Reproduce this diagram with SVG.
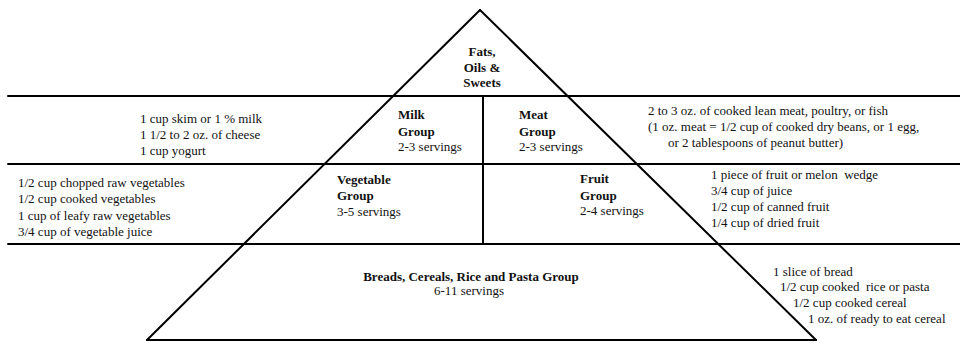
<svg xmlns="http://www.w3.org/2000/svg" width="960" height="343" viewBox="0 0 960 343">
<style>
  .ln { stroke: #000; stroke-width: 2; fill: none; stroke-linecap: round; }
  text { font-family: 'Liberation Serif', 'Times New Roman', Times, 'DejaVu Serif', serif; font-size: 13px; fill: #111; }
  .b { font-weight: bold; }
  .c { text-anchor: middle; }
</style>
<rect width="960" height="343" fill="#fff"/>
<g id="connectors">
  <line class="ln" x1="8" y1="96" x2="960" y2="96"/>
  <line class="ln" x1="8" y1="164" x2="960" y2="164"/>
  <line class="ln" x1="8" y1="244" x2="960" y2="244"/>
  <line class="ln" x1="147" y1="340" x2="816" y2="340"/>
  <line class="ln" x1="480" y1="10" x2="147" y2="340"/>
  <line class="ln" x1="480" y1="10" x2="816" y2="340"/>
  <line class="ln" x1="483" y1="96" x2="483" y2="244"/>
</g>
<g id="fats">
  <text class="b c" x="482" y="56">Fats,</text>
  <text class="b c" x="482" y="72">Oils &amp;</text>
  <text class="b c" x="482" y="87">Sweets</text>
</g>
<g id="milk">
  <text class="b" x="398" y="119">Milk</text>
  <text class="b" x="398" y="136">Group</text>
  <text x="398" y="151">2-3 servings</text>
</g>
<g id="milk-list">
  <text x="140" y="123">1 cup skim or 1 % milk</text>
  <text x="140" y="139">1 1/2 to 2 oz. of cheese</text>
  <text x="140" y="155">1 cup yogurt</text>
</g>
<g id="meat">
  <text class="b" x="519" y="119">Meat</text>
  <text class="b" x="519" y="136">Group</text>
  <text x="519" y="151">2-3 servings</text>
</g>
<g id="meat-list">
  <text x="648" y="115">2 to 3 oz. of cooked lean meat, poultry, or fish</text>
  <text x="648" y="131">(1 oz. meat = 1/2 cup of cooked dry beans, or 1 egg,</text>
  <text x="668" y="147">or 2 tablespoons of peanut butter)</text>
</g>
<g id="vegetable">
  <text class="b" x="337" y="184">Vegetable</text>
  <text class="b" x="337" y="200">Group</text>
  <text x="337" y="216">3-5 servings</text>
</g>
<g id="vegetable-list">
  <text x="18" y="187">1/2 cup chopped raw vegetables</text>
  <text x="18" y="203">1/2 cup cooked vegetables</text>
  <text x="18" y="220">1 cup of leafy raw vegetables</text>
  <text x="18" y="236">3/4 cup of vegetable juice</text>
</g>
<g id="fruit">
  <text class="b" x="580" y="183">Fruit</text>
  <text class="b" x="580" y="200">Group</text>
  <text x="580" y="215">2-4 servings</text>
</g>
<g id="fruit-list">
  <text x="711" y="179" xml:space="preserve">1 piece of fruit or melon  wedge</text>
  <text x="711" y="195">3/4 cup of juice</text>
  <text x="711" y="211">1/2 cup of canned fruit</text>
  <text x="711" y="227">1/4 cup of dried fruit</text>
</g>
<g id="breads">
  <text class="b c" x="471" y="281">Breads, Cereals, Rice and Pasta Group</text>
  <text class="c" x="469" y="295">6-11 servings</text>
</g>
<g id="breads-list">
  <text x="773" y="276">1 slice of bread</text>
  <text x="780" y="291" xml:space="preserve">1/2 cup cooked  rice or pasta</text>
  <text x="793" y="307">1/2 cup cooked cereal</text>
  <text x="808" y="323">1 oz. of ready to eat cereal</text>
</g>
</svg>
